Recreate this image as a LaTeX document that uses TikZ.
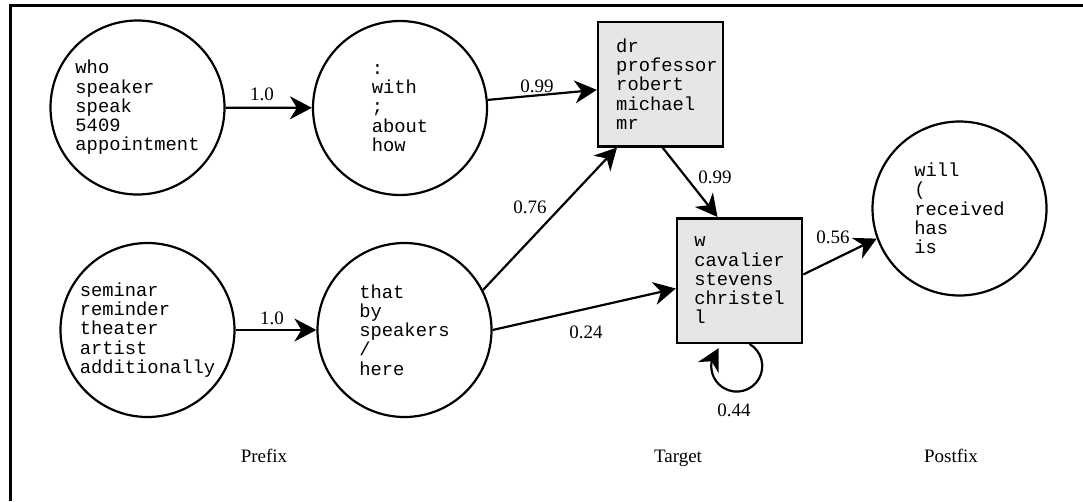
\documentclass[tikz,border=0pt]{standalone}
\usepackage{fontspec}
\setmainfont{Liberation Serif}
\setmonofont{Liberation Mono}
\usetikzlibrary{arrows.meta,bending}
\definecolor{boxfill}{RGB}{230,230,231}
\newcommand{\bxind}{\hspace*{13pt}}
\begin{document}
\begin{tikzpicture}[x=1pt,y=1pt]
\tikzset{
  state/.style={circle, draw, line width=2.2pt, minimum size=174pt, inner sep=0pt,
    align=left, font=\ttfamily\fontsize{18.8}{19.25}\selectfont},
  targetbox/.style={rectangle, draw, line width=2.5pt, fill=boxfill,
    minimum width=125pt, minimum height=124.5pt, inner sep=0pt,
    align=left, font=\ttfamily\fontsize{18.8}{19.25}\selectfont},
  arr/.style={line width=2.2pt, -{Stealth[length=22pt,width=23pt,inset=7pt]}},
  wlabel/.style={font=\fontsize{19}{21}\selectfont, inner sep=0pt},
  frameline/.style={line width=3pt, line join=miter},
}
\useasboundingbox (0,0) rectangle (1083,-501);
\draw[frameline] (10,-501) -- (10,-5.5) -- (1083,-5.5);

% nodes
\node[state] (c1) at (137.5,-107.5) {who\\speaker\\speak\\5409\\appointment};
\node[state] (c2) at (400,-108) {:\\with\\;\\about\\how};
\node[state] (c3) at (147.5,-330) {seminar\\reminder\\theater\\artist\\additionally};
\node[state] (c4) at (404.5,-330) {that\\by\\speakers\\/\\here};
\node[state] (c5) at (959.5,-208.5) {will\\(\\received\\has\\is};
\node[targetbox] (b1) at (660.5,-84) {\bxind dr\\\bxind professor\\\bxind robert\\\bxind michael\\\bxind mr};
\node[targetbox] (b2) at (739.5,-280.5) {w\\cavalier\\stevens\\christel\\l};

% connectors
\draw[arr] (c1) -- (c2);
\draw[arr] (c3) -- (c4);
\draw[arr] (c2) -- (b1);
\draw[arr] (c4.27) -- ([xshift=-43.5pt]b1.south);
\draw[arr] ([xshift=2pt]b1.south) -- ([xshift=-22pt]b2.north);
\draw[arr] (c4.east) -- ([yshift=-8pt]b2.west);
\draw[arr] ([yshift=6pt]b2.east) -- (c5.200);
\draw[arr] ([xshift=10pt]b2.south) arc[start angle=60, end angle=-225, radius=25.5];

% weights
\node[wlabel] (w1) at (262,-94) {1.0};
\node[wlabel] (w2) at (272,-318) {1.0};
\node[wlabel] (w3) at (537,-86) {0.99};
\node[wlabel] (w4) at (530,-207) {0.76};
\node[wlabel] (w5) at (715,-177) {0.99};
\node[wlabel] (w6) at (586,-332) {0.24};
\node[wlabel] (w7) at (833,-237) {0.56};
\node[wlabel] (w8) at (734,-410) {0.44};

% column titles
\node[wlabel, anchor=base] (t1) at (264,-462) {Prefix};
\node[wlabel, anchor=base] (t2) at (678,-462) {Target};
\node[wlabel, anchor=base] (t3) at (951,-462) {Postfix};
\end{tikzpicture}
\end{document}
